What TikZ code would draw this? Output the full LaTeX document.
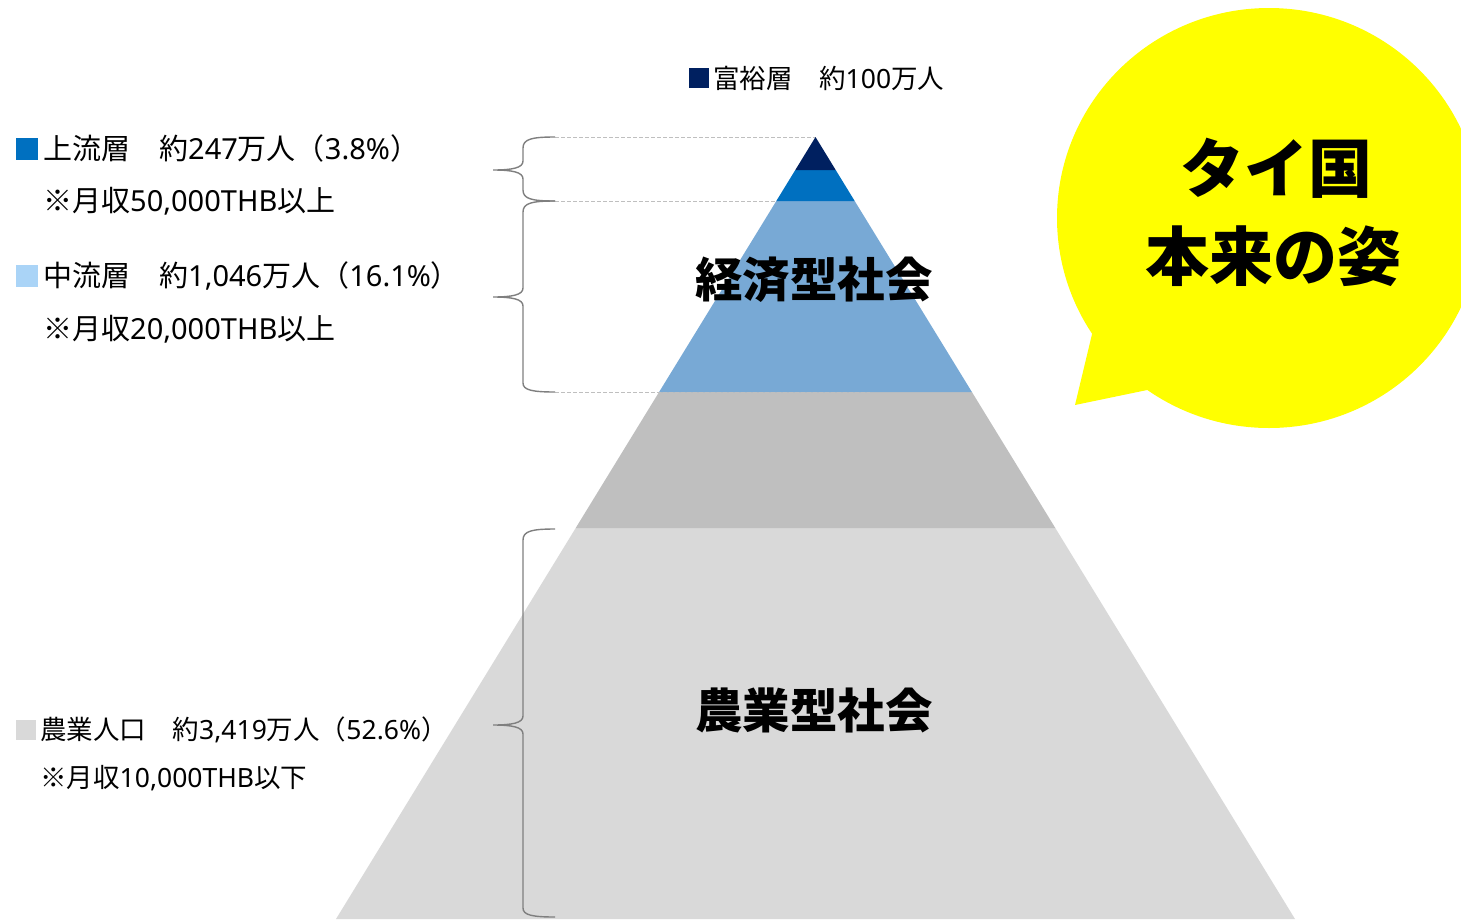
\documentclass[tikz,border=0pt]{standalone}
\usepackage{fontspec}
\setmainfont{Noto Sans CJK JP}
\newfontfamily\lat{Noto Sans}
\definecolor{navy}{HTML}{002060}
\definecolor{upper}{HTML}{0070C0}
\definecolor{midblue}{HTML}{78A9D5}
\definecolor{midsq}{HTML}{AAD4F7}
\definecolor{gray1}{HTML}{BFBFBF}
\definecolor{gray2}{HTML}{D9D9D9}
\definecolor{bracegray}{HTML}{7F7F7F}
\definecolor{bubble}{HTML}{FFFF00}
\tikzset{
  legend/.style={anchor=west,inner sep=0pt,font=\fontsize{29}{34}\selectfont},
  legendsmall/.style={anchor=west,inner sep=0pt,font=\fontsize{26.5}{31}\selectfont},
  heading/.style={inner sep=0pt,font=\fontsize{47.5}{56}\selectfont\bfseries},
  bubbletext/.style={inner sep=0pt,font=\fontsize{64}{76}\selectfont\bfseries},
  bracestyle/.style={draw=bracegray,line width=1.4pt},
  guide/.style={draw=gray1,line width=1pt,dash pattern=on 4pt off 2pt},
  sq/.style={inner sep=0pt,minimum width=22pt,minimum height=22pt}
}
\begin{document}
\begin{tikzpicture}[x=1pt,y=-1pt]
\useasboundingbox (0,0) rectangle (1461,919);
% pyramid layers
\fill[gray2] (575.7,528) -- (1055.3,528) -- (1295,919) -- (336,919) -- cycle;
\fill[gray1] (659.1,392) -- (971.9,392) -- (1055.3,528) -- (575.7,528) -- cycle;
\fill[midblue] (776.3,201) -- (854.7,201) -- (971.9,392) -- (659.1,392) -- cycle;
\fill[upper] (795.3,170) -- (835.7,170) -- (854.7,201) -- (776.3,201) -- cycle;
\fill[navy] (815.5,137) -- (835.7,170) -- (795.3,170) -- cycle;
% guide lines
\coordinate (g1a) at (555,137); \coordinate (g1b) at (815,137);
\coordinate (g2a) at (555,201); \coordinate (g2b) at (776,201);
\coordinate (g3a) at (555,392); \coordinate (g3b) at (870,392);
\draw[guide] (g1a) -- (g1b);
\draw[guide] (g2a) -- (g2b);
\draw[guide] (g3a) -- (g3b);
% braces
\draw[bracestyle] (555,137) .. controls (532,137) and (523,139) .. (523,148) -- (523,161)
  .. controls (523,168) and (512,170) .. (493,170)
  .. controls (512,170) and (523,172) .. (523,179) -- (523,190)
  .. controls (523,199) and (532,201) .. (555,201);
\draw[bracestyle] (555,201) .. controls (532,201) and (523,203) .. (523,212) -- (523,288)
  .. controls (523,295) and (512,297) .. (493,297)
  .. controls (512,297) and (523,299) .. (523,306) -- (523,383)
  .. controls (523,390) and (532,392) .. (555,392);
\draw[bracestyle] (555,529) .. controls (532,529) and (523,531) .. (523,540) -- (523,716)
  .. controls (523,723) and (512,725) .. (493,725)
  .. controls (512,725) and (523,727) .. (523,734) -- (523,908)
  .. controls (523,915) and (532,917) .. (555,917);
% speech bubble
\fill[bubble] (1093,330) -- (1075,405) -- (1152,389) -- cycle;
\fill[bubble] (1269,218) ellipse [x radius=212, y radius=210];
\node[bubbletext] (b1) at (1276,168) {タイ国};
\node[bubbletext] (b2) at (1273,256) {本来の姿};
% headings
\node[heading] (h1) at (814,280) {経済型社会};
\node[heading] (h2) at (814,710) {農業型社会};
% legend
\node[sq,fill=navy,minimum width=20pt,minimum height=20pt] (s0) at (699,78) {};
\node[legend,font=\fontsize{26.5}{30}\selectfont] (t0) at (713,78) {富裕層　約{\lat 100}万人};
\node[sq,fill=upper] (s1) at (27,149) {};
\node[legend] (t1) at (43,148) {上流層　約{\lat 247}万人（{\lat 3.8\%}）};
\node[legend] (t1b) at (43,201) {※月収{\lat 50,000THB}以上};
\node[sq,fill=midsq] (s2) at (27,276) {};
\node[legend] (t2) at (43,276) {中流層　約{\lat 1,046}万人（{\lat 16.1\%}）};
\node[legend] (t2b) at (43,329) {※月収{\lat 20,000THB}以上};
\node[sq,fill=gray2,minimum width=20pt,minimum height=20pt] (s3) at (26,730) {};
\node[legendsmall] (t3) at (40,730) {農業人口　約{\lat 3,419}万人（{\lat 52.6\%}）};
\node[legendsmall] (t3b) at (40,778) {※月収{\lat 10,000THB}以下};
\end{tikzpicture}
\end{document}
